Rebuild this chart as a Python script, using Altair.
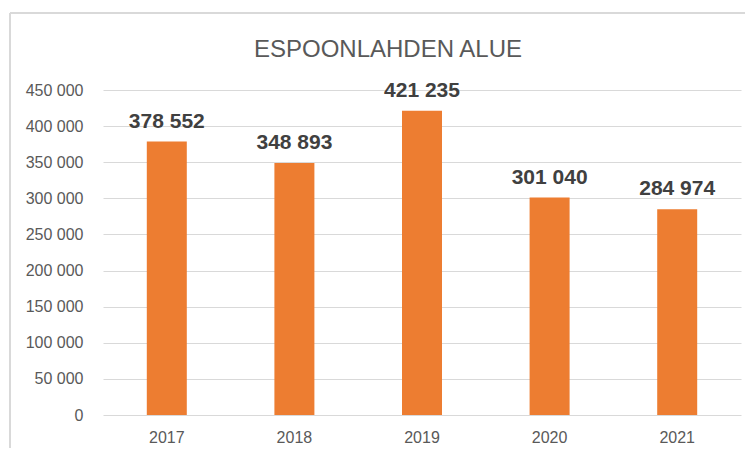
import altair as alt
import pandas as pd

years = ["2017", "2018", "2019", "2020", "2021"]
values = [378552, 348893, 421235, 301040, 284974]
title_text = "ESPOONLAHDEN ALUE"
y_ticks = [0, 50000, 100000, 150000, 200000, 250000, 300000, 350000, 400000, 450000]

df = pd.DataFrame({"year": years, "value": values})

W, H = 638, 325
FONT = "Liberation Sans"
FMT = "replace(format(datum.value, ','), regexp(',', 'g'), ' ')"

base = alt.Chart(df).encode(
    x=alt.X("year:N", sort=years, title=None,
            scale=alt.Scale(paddingInner=0.687, paddingOuter=0.3435),
            axis=alt.Axis(labelAngle=0, ticks=False, domain=False, labelPadding=14,
                          labelFontSize=16, labelColor="#595959", labelFont=FONT)),
    y=alt.Y("value:Q", title=None,
            scale=alt.Scale(domain=[0, 450000], nice=False, zero=True),
            axis=alt.Axis(values=y_ticks, domain=False, ticks=False, labelPadding=20,
                          labelOverlap=False,
                          labelFontSize=16, labelColor="#595959", labelFont=FONT,
                          grid=True, gridColor="#d9d9d9", gridWidth=1,
                          labelExpr=FMT)),
)

bars = base.mark_bar(color="#ED7D31", size=40)

labels = base.transform_calculate(
    lab=FMT
).mark_text(font=FONT, fontSize=21, fontWeight="bold", color="#404040",
            baseline="alphabetic", dy=-14).encode(
    text="lab:N",
)

one = pd.DataFrame({"t": [title_text]})
border_left = alt.Chart(one).mark_rule(color="#d9d9d9", strokeWidth=2).encode(
    x=alt.value(-93), y=alt.value(-77), y2=alt.value(H + 60))
border_top = alt.Chart(one).mark_rule(color="#d9d9d9", strokeWidth=2).encode(
    x=alt.value(-93), x2=alt.value(W + 20), y=alt.value(-77))
title = alt.Chart(one).mark_text(font=FONT, fontSize=24, color="#595959",
                                 baseline="alphabetic", align="center").encode(
    x=alt.value(W / 2 - 34), y=alt.value(-33), text="t:N")

chart = alt.layer(border_left, border_top, title, bars, labels).properties(
    width=W, height=H,
    padding={"left": 95, "top": 82, "right": 4, "bottom": 33},
    autosize=alt.AutoSizeParams(type="none"),
).configure_view(stroke=None)

chart.save("out.html", embed_options={"renderer": "svg", "actions": False})
